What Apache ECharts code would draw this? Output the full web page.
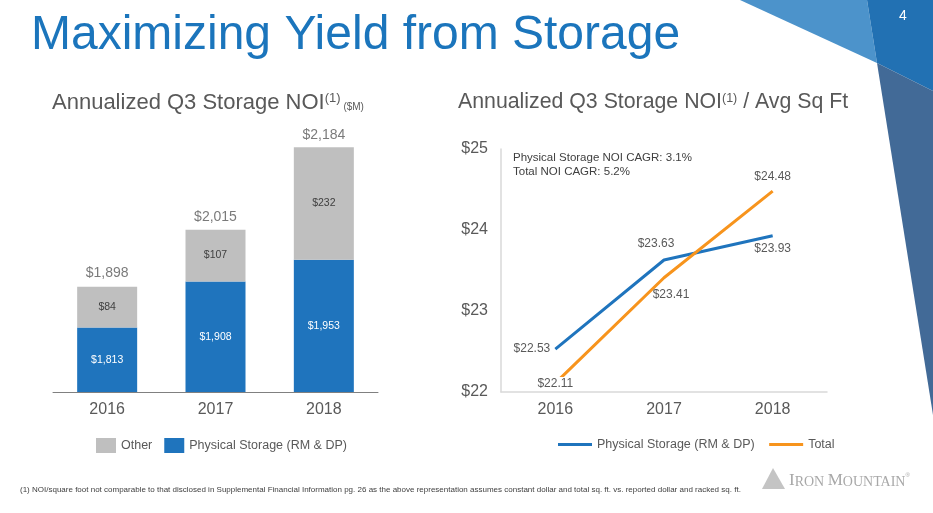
<!DOCTYPE html>
<html>
<head>
    <meta charset="utf-8">
    <title>Maximizing Yield from Storage</title>
    <script src="https://cdn.jsdelivr.net/npm/echarts@6/dist/echarts.min.js"></script>
    <style>
        html, body { margin: 0; padding: 0; background: #fff; }
        #chart { width: 933px; height: 513px; }
    </style>
</head>
<body>
<div id="chart"></div>
<script type="text/javascript">
    // 数据
    var years = ['2016', '2017', '2018'];
    var physicalNoi = [1813, 1908, 1953];
    var otherNoi = [84, 107, 232];
    var totalNoi = [1898, 2015, 2184];
    var physicalPerSqFt = [22.53, 23.63, 23.93];
    var totalPerSqFt = [22.11, 23.41, 24.48];
    var perSqFtTicks = [22, 25, 1]; // min, max, interval

    var BLUE = '#1f74bd', GREY = '#bfbfbf', ORANGE = '#f7941d', TXT = '#595959';
    var SANS = '"Liberation Sans", Arial, sans-serif';

    function money(v) {
        return '$' + Number(v).toLocaleString('en-US');
    }

    // 每个点的标签位置
    var physLabelPos = [
        {position: 'left', offset: [0, 0]},
        {position: 'top', offset: [-8, -5]},
        {position: 'bottom', offset: [0, 2]}
    ];
    var totalLabelPos = [
        {position: 'inside', offset: [0, 1], backgroundColor: '#fff', padding: [1, 2]},
        {position: 'bottom', offset: [7, 6]},
        {position: 'top', offset: [0, -3]}
    ];

    var myChart = echarts.init(document.getElementById('chart'));
    myChart.setOption({
        backgroundColor: '#fff',
        animation: false,
        textStyle: {fontFamily: SANS},
        grid: [
            {left: 53, width: 325, top: 140, height: 252},
            {left: 501, width: 326, top: 149, height: 243}
        ],
        xAxis: [
            {
                gridIndex: 0, type: 'category', data: years,
                axisLine: {lineStyle: {color: '#808080', width: 1}},
                axisTick: {show: false},
                axisLabel: {color: TXT, fontSize: 16, margin: 10}
            },
            {
                gridIndex: 1, type: 'category', data: years,
                axisLine: {lineStyle: {color: '#d9d9d9', width: 1.5}},
                axisTick: {show: false},
                axisLabel: {color: TXT, fontSize: 16, margin: 10}
            }
        ],
        yAxis: [
            {gridIndex: 0, type: 'value', min: 1680, max: 2200, show: false},
            {
                gridIndex: 1, type: 'value',
                min: perSqFtTicks[0], max: perSqFtTicks[1], interval: perSqFtTicks[2],
                axisLine: {show: true, lineStyle: {color: '#d9d9d9', width: 1.5}},
                axisTick: {show: false},
                splitLine: {show: false},
                axisLabel: {
                    color: TXT, fontSize: 16, margin: 13,
                    formatter: function (v) { return '$' + v; }
                }
            }
        ],
        legend: [
            {
                data: ['Other', 'Physical Storage (RM & DP)'],
                left: 91, top: 433, icon: 'rect', itemWidth: 20, itemHeight: 15, itemGap: 12,
                textStyle: {color: TXT, fontSize: 12.5}
            },
            {
                data: ['Physical Storage (RM & DP) ', 'Total'],
                left: 553, top: 433, icon: 'rect', itemWidth: 34, itemHeight: 3, itemGap: 11,
                textStyle: {color: TXT, fontSize: 12.5}
            }
        ],
        series: [
            {
                name: 'Physical Storage (RM & DP)', type: 'bar', stack: 'noi',
                xAxisIndex: 0, yAxisIndex: 0, barWidth: 60,
                itemStyle: {color: BLUE},
                label: {
                    show: true, position: 'inside', color: '#fff', fontSize: 10.5,
                    formatter: function (p) { return money(p.value); }
                },
                data: physicalNoi
            },
            {
                name: 'Other', type: 'bar', stack: 'noi',
                xAxisIndex: 0, yAxisIndex: 0, barWidth: 60,
                itemStyle: {color: GREY},
                label: {
                    show: true, position: 'inside', color: '#404040', fontSize: 10.5,
                    formatter: function (p) { return money(p.value); }
                },
                data: otherNoi
            },
            {
                // 柱子顶部的合计
                name: 'sum', type: 'scatter', xAxisIndex: 0, yAxisIndex: 0,
                symbolSize: 0, silent: true,
                label: {
                    show: true, position: 'top', distance: 6, color: TXT, fontSize: 14,
                    formatter: function (p) { return money(p.value); }
                },
                data: totalNoi
            },
            {
                name: 'Physical Storage (RM & DP) ', type: 'line', xAxisIndex: 1, yAxisIndex: 1,
                symbol: 'circle', symbolSize: 0.1,
                lineStyle: {color: BLUE, width: 3},
                itemStyle: {color: BLUE},
                label: {show: true, color: TXT, fontSize: 12,
                    formatter: function (p) { return '$' + p.value.toFixed(2); }},
                data: physicalPerSqFt.map(function (v, i) {
                    return {value: v, label: physLabelPos[i]};
                })
            },
            {
                name: 'Total', type: 'line', xAxisIndex: 1, yAxisIndex: 1,
                symbol: 'circle', symbolSize: 0.1, z: 3,
                lineStyle: {color: ORANGE, width: 3},
                itemStyle: {color: ORANGE},
                label: {show: true, color: TXT, fontSize: 12,
                    formatter: function (p) { return '$' + p.value.toFixed(2); }},
                data: totalPerSqFt.map(function (v, i) {
                    return {value: v, label: totalLabelPos[i]};
                })
            }
        ],
        graphic: [
            // 右上角装饰
            {type: 'polygon', z: -1, shape: {points: [[740, 0], [867, 0], [877, 63]]}, style: {fill: '#4c93cb'}},
            {type: 'polygon', z: -1, shape: {points: [[867, 0], [933, 0], [933, 91], [877, 63]]}, style: {fill: '#2271b3'}},
            {type: 'polygon', z: -1, shape: {points: [[877, 63], [933, 91], [933, 415]]}, style: {fill: '#426a97'}},
            {type: 'text', left: 899, top: 9, style: {text: '4', fill: '#fff', font: '14px ' + SANS}},
            // 标题
            {type: 'text', left: 31, top: 12, style: {text: 'Maximizing Yield from Storage', fill: '#1b75bc', font: '48px ' + SANS}},
            {
                type: 'text', left: 52, top: 92,
                style: {
                    text: '{a|Annualized Q3 Storage NOI}{s|(1)}{m| ($M)}',
                    fill: TXT,
                    rich: {
                        a: {fontSize: 22, fontFamily: SANS, fill: TXT, verticalAlign: 'bottom'},
                        s: {fontSize: 13, fontFamily: SANS, fill: TXT, verticalAlign: 'top'},
                        m: {fontSize: 10, fontFamily: SANS, fill: TXT, verticalAlign: 'bottom', padding: [0, 0, 2, 0]}
                    }
                }
            },
            {
                type: 'text', left: 458, top: 92,
                style: {
                    text: '{a|Annualized Q3 Storage NOI}{s|(1)}{a| / Avg Sq Ft}',
                    fill: TXT,
                    rich: {
                        a: {fontSize: 21.3, fontFamily: SANS, fill: TXT, verticalAlign: 'bottom'},
                        s: {fontSize: 12.5, fontFamily: SANS, fill: TXT, verticalAlign: 'top'}
                    }
                }
            },
            // CAGR 注释
            {type: 'text', left: 513, top: 152, style: {text: 'Physical Storage NOI CAGR: 3.1%', fill: '#404040', font: '11.5px ' + SANS}},
            {type: 'text', left: 513, top: 166, style: {text: 'Total NOI CAGR: 5.2%', fill: '#404040', font: '11.5px ' + SANS}},
            // 脚注
            {
                type: 'text', left: 20, top: 486,
                style: {
                    text: '(1) NOI/square foot not comparable to that disclosed in Supplemental Financial Information pg. 26 as the above representation assumes constant dollar and total sq. ft. vs. reported dollar and racked sq. ft.',
                    fill: '#404040', font: '8px ' + SANS
                }
            },
            // logo
            {type: 'polygon', shape: {points: [[762, 489], [773, 468], [785, 489]]}, style: {fill: '#c4c4c4'}},
            {
                type: 'text', left: 789, top: 472,
                style: {
                    text: '{b|I}{c|RON }{b|M}{c|OUNTAIN}{r|®}',
                    rich: {
                        b: {fontSize: 17, fontFamily: '"Liberation Serif", serif', fill: '#a8a8a8', verticalAlign: 'bottom'},
                        c: {fontSize: 14, fontFamily: '"Liberation Serif", serif', fill: '#a8a8a8', verticalAlign: 'bottom'},
                        r: {fontSize: 6, fontFamily: SANS, fill: '#a8a8a8', verticalAlign: 'top'}
                    }
                }
            }
        ]
    });
</script>
</body>
</html>
